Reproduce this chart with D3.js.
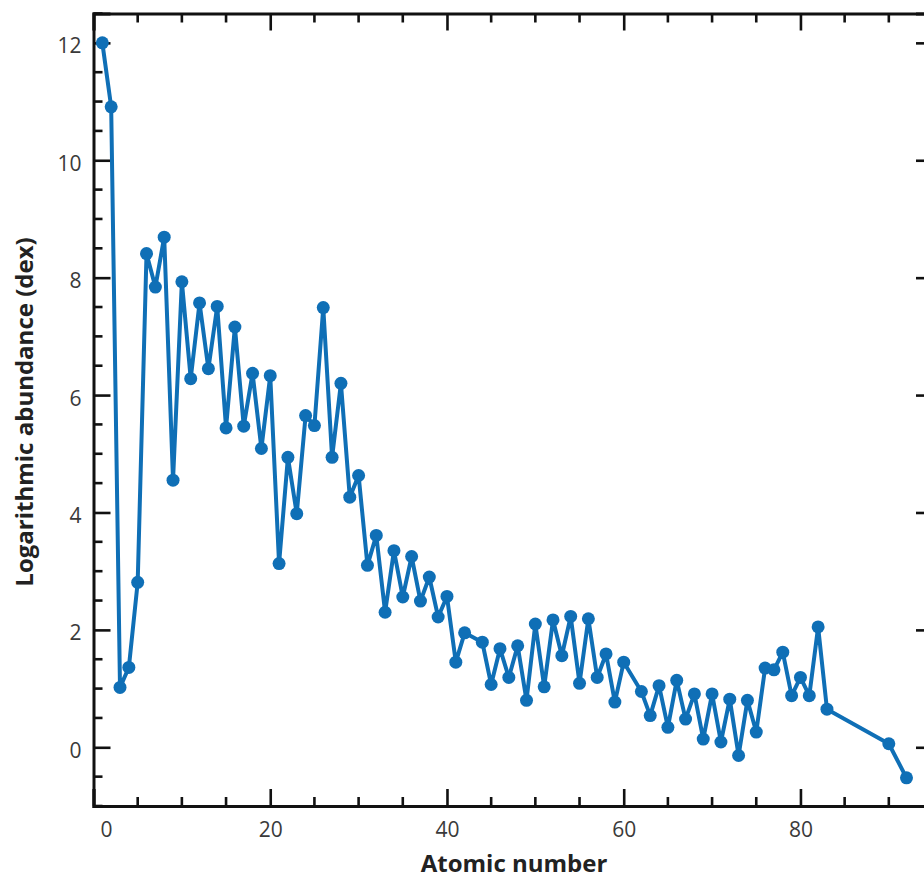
<!DOCTYPE html>
<html>
<head>
<meta charset="utf-8">
<script src="https://cdn.jsdelivr.net/npm/d3@7"></script>
<style>
  body { margin: 0; background: #fff; }
  svg { display: block; }
  text { font-family: "Open Sans", "DejaVu Sans", sans-serif; }
</style>
</head>
<body>
<div id="chart"></div>
<script>
// atomic number (Z) and log abundance (dex)
const atomicNumber = [
  1, 2, 3, 4, 5, 6, 7, 8, 9, 10,
  11, 12, 13, 14, 15, 16, 17, 18, 19, 20,
  21, 22, 23, 24, 25, 26, 27, 28, 29, 30,
  31, 32, 33, 34, 35, 36, 37, 38, 39, 40,
  41, 42, 44, 45, 46, 47, 48, 49, 50,
  51, 52, 53, 54, 55, 56, 57, 58, 59, 60,
  62, 63, 64, 65, 66, 67, 68, 69, 70,
  71, 72, 73, 74, 75, 76, 77, 78, 79, 80,
  81, 82, 83, 90, 92
];
const logAbundance = [
  12.00, 10.91, 1.02, 1.36, 2.81, 8.41, 7.84, 8.69, 4.55, 7.93,
  6.28, 7.57, 6.45, 7.51, 5.44, 7.16, 5.47, 6.37, 5.09, 6.33,
  3.13, 4.94, 3.98, 5.65, 5.48, 7.49, 4.94, 6.20, 4.26, 4.63,
  3.10, 3.61, 2.30, 3.35, 2.56, 3.25, 2.49, 2.90, 2.22, 2.57,
  1.45, 1.95, 1.79, 1.07, 1.68, 1.19, 1.73, 0.80, 2.10,
  1.03, 2.17, 1.56, 2.23, 1.09, 2.19, 1.19, 1.59, 0.77, 1.45,
  0.95, 0.54, 1.05, 0.34, 1.14, 0.48, 0.91, 0.14, 0.91,
  0.09, 0.82, -0.14, 0.80, 0.26, 1.35, 1.32, 1.62, 0.88, 1.19,
  0.88, 2.05, 0.65, 0.06, -0.52
];

const xTickValues = [0, 20, 40, 60, 80];
const yTickValues = [0, 2, 4, 6, 8, 10, 12];

const width = 924, height = 880;
const margin = { top: 13.5, right: -9, bottom: 74, left: 93.5 };
const blue = "#0f6fb6";

const svg = d3.select("#chart").append("svg")
    .attr("width", width)
    .attr("height", height);

const x = d3.scaleLinear()
    .domain([0, 95])
    .range([margin.left, width - margin.right]);

const y = d3.scaleLinear()
    .domain([-1, 12.5])
    .range([height - margin.bottom, margin.top]);

const points = atomicNumber.map((z, i) => ({ z: z, v: logAbundance[i] }));

// minor tick positions
const xMinor = d3.range(0, 96, 5).filter(d => d % 20 !== 0);
const yMinor = d3.range(-1, 12.6, 0.5).filter(d => d % 2 !== 0);

const axisW = 2.6;

// bottom + top axes
const gBottom = svg.append("g")
    .attr("transform", `translate(0,${y.range()[0]})`)
    .call(d3.axisBottom(x).tickValues(xTickValues).tickSize(-17).tickPadding(16).tickFormat(d3.format("d")));
gBottom.append("g").selectAll("line").data(xMinor).enter().append("line")
    .attr("x1", d => x(d)).attr("x2", d => x(d))
    .attr("y1", 0).attr("y2", -9);

const gTop = svg.append("g")
    .attr("transform", `translate(0,${y.range()[1]})`)
    .call(d3.axisTop(x).tickValues(xTickValues).tickSize(-17).tickFormat(""));
gTop.append("g").selectAll("line").data(xMinor).enter().append("line")
    .attr("x1", d => x(d)).attr("x2", d => x(d))
    .attr("y1", 0).attr("y2", 9);

// left + right axes
const gLeft = svg.append("g")
    .attr("transform", `translate(${x.range()[0]},0)`)
    .call(d3.axisLeft(y).tickValues(yTickValues).tickSize(-17).tickPadding(12).tickFormat(d3.format("d")));
gLeft.append("g").selectAll("line").data(yMinor).enter().append("line")
    .attr("y1", d => y(d)).attr("y2", d => y(d))
    .attr("x1", 0).attr("x2", 9);

const gRight = svg.append("g")
    .attr("transform", `translate(${x.range()[1]},0)`)
    .call(d3.axisRight(y).tickValues(yTickValues).tickSize(-17).tickFormat(""));
gRight.append("g").selectAll("line").data(yMinor).enter().append("line")
    .attr("y1", d => y(d)).attr("y2", d => y(d))
    .attr("x1", 0).attr("x2", -9);

svg.selectAll(".domain, .tick line, g g line")
    .attr("stroke", "#111")
    .attr("stroke-width", axisW);
svg.selectAll(".domain").attr("stroke-width", 3);

svg.selectAll(".tick text")
    .attr("fill", "#3a3a3a")
    .style("font-size", "21px");

// the "0" label sits a little right of the corner in the original
gBottom.selectAll(".tick text").filter(d => d === 0).attr("dx", 12.5);
gLeft.selectAll(".tick text").attr("dy", "0.48em");

// line + dots
const line = d3.line().x(d => x(d.z)).y(d => y(d.v));

svg.append("path")
    .datum(points)
    .attr("fill", "none")
    .attr("stroke", blue)
    .attr("stroke-width", 4)
    .attr("stroke-linejoin", "round")
    .attr("d", line);

svg.append("g")
    .selectAll("circle")
    .data(points)
    .enter().append("circle")
    .attr("cx", d => x(d.z))
    .attr("cy", d => y(d.v))
    .attr("r", 6.5)
    .attr("fill", blue);

// axis titles
svg.append("text")
    .attr("x", 514)
    .attr("y", 872)
    .attr("text-anchor", "middle")
    .style("font-size", "24px")
    .style("font-weight", "bold")
    .attr("fill", "#222")
    .text("Atomic number");

svg.append("text")
    .attr("transform", "translate(33,412) rotate(-90)")
    .attr("text-anchor", "middle")
    .style("font-size", "24px")
    .style("font-weight", "bold")
    .attr("fill", "#222")
    .text("Logarithmic abundance (dex)");
</script>
</body>
</html>
